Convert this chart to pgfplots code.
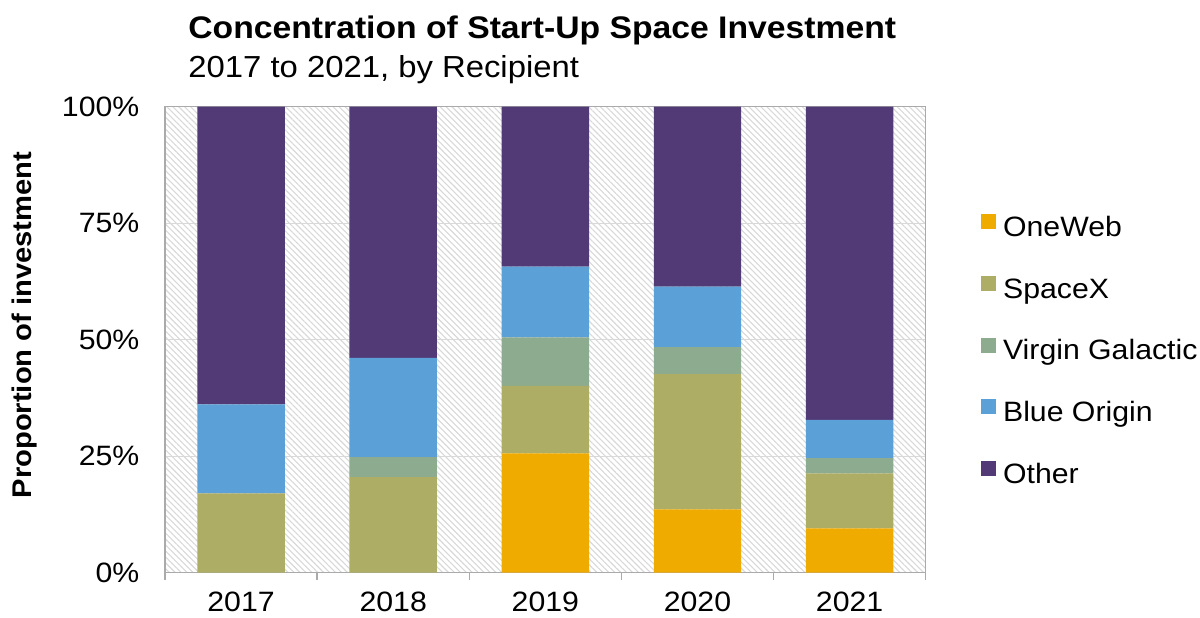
\documentclass[border=0pt]{standalone}
\usepackage{pgfplots}
\pgfplotsset{compat=1.18}
\usetikzlibrary{patterns.meta}
\usepackage{fontspec}
\setmainfont{Liberation Sans}[FakeStretch=1.08]

\definecolor{oneweb}{HTML}{F0AB00}
\definecolor{spacex}{HTML}{ADAD66}
\definecolor{virgin}{HTML}{8DAB8E}
\definecolor{blueorigin}{HTML}{5BA0D6}
\definecolor{other}{HTML}{523A76}
\definecolor{hatch}{HTML}{D8D8D8}
\definecolor{gridc}{HTML}{D9D9D9}
\definecolor{axisc}{HTML}{AAAAAA}

\begin{document}
\begin{tikzpicture}
\begin{axis}[
    at={(0,0)}, anchor=south west,
    width=380.35pt, height=233pt, scale only axis,
    ybar stacked, bar width=0.575,
    xmin=-0.5, xmax=4.5,
    ymin=0, ymax=100,
    xtick={0,1,2,3,4},
    xticklabels={2017,2018,2019,2020,2021},
    minor xtick={-0.5,0.5,1.5,2.5,3.5,4.5},
    ytick={0,25,50,75,100},
    yticklabels={0\%,25\%,50\%,75\%,100\%},
    xtick pos=bottom, ytick pos=left,
    tick align=outside,
    major tick length=0pt, minor tick length=3.5pt,
    minor tick style={axisc, line width=0.7pt},
    axis line style={axisc, line width=0.7pt},
    ymajorgrids, grid style={gridc, line width=0.6pt},
    axis background/.style={pattern={Lines[angle=-45,distance=2.1pt,line width=0.55pt]}, pattern color=hatch},
    tick label style={font=\fontsize{14}{16}\selectfont},
    yticklabel style={xshift=-9.3pt},
    xticklabel style={yshift=-6.3pt},
    legend cell align=left,
    legend style={at={(1.0723,0.769)}, anchor=north west, draw=none, fill=none,
        inner sep=0pt, outer sep=0pt, row sep=16.85pt, column sep=3.7pt,
        font=\fontsize{14}{16}\selectfont,
        nodes={inner sep=0pt, text height=10pt, text depth=3pt}},
    legend image code/.code={\fill[#1] (0pt,0pt) rectangle (7.5pt,7.5pt);},
]
\addplot[fill=oneweb, draw=none] coordinates {(0,0) (1,0) (2,25.6) (3,13.6) (4,9.5)};
\addlegendentry{OneWeb}
\addplot[fill=spacex, draw=none] coordinates {(0,17.0) (1,20.5) (2,14.5) (3,29.0) (4,11.8)};
\addlegendentry{SpaceX}
\addplot[fill=virgin, draw=none] coordinates {(0,0) (1,4.3) (2,10.4) (3,5.8) (4,3.3)};
\addlegendentry{Virgin Galactic}
\addplot[fill=blueorigin, draw=none] coordinates {(0,19.1) (1,21.3) (2,15.2) (3,13.0) (4,8.2)};
\addlegendentry{Blue Origin}
\addplot[fill=other, draw=none] coordinates {(0,63.9) (1,53.9) (2,34.3) (3,38.6) (4,67.2)};
\addlegendentry{Other}
\end{axis}
\node[anchor=base west, inner sep=0pt] at (11.5pt,267.2pt)
    {\fontsize{15.6}{18}\selectfont\bfseries Concentration of Start-Up Space Investment};
\node[anchor=base west, inner sep=0pt] at (11.5pt,247.7pt)
    {\fontsize{15.2}{18}\selectfont 2017 to 2021, by Recipient};
\node[rotate=90, inner sep=0pt] at (-70pt,123.85pt)
    {\fontsize{13.5}{16}\selectfont\bfseries Proportion of investment};
\pgfresetboundingbox
\path[use as bounding box] (-82.5pt,-22.15pt) rectangle (517.5pt,286.35pt);
\end{tikzpicture}
\end{document}
